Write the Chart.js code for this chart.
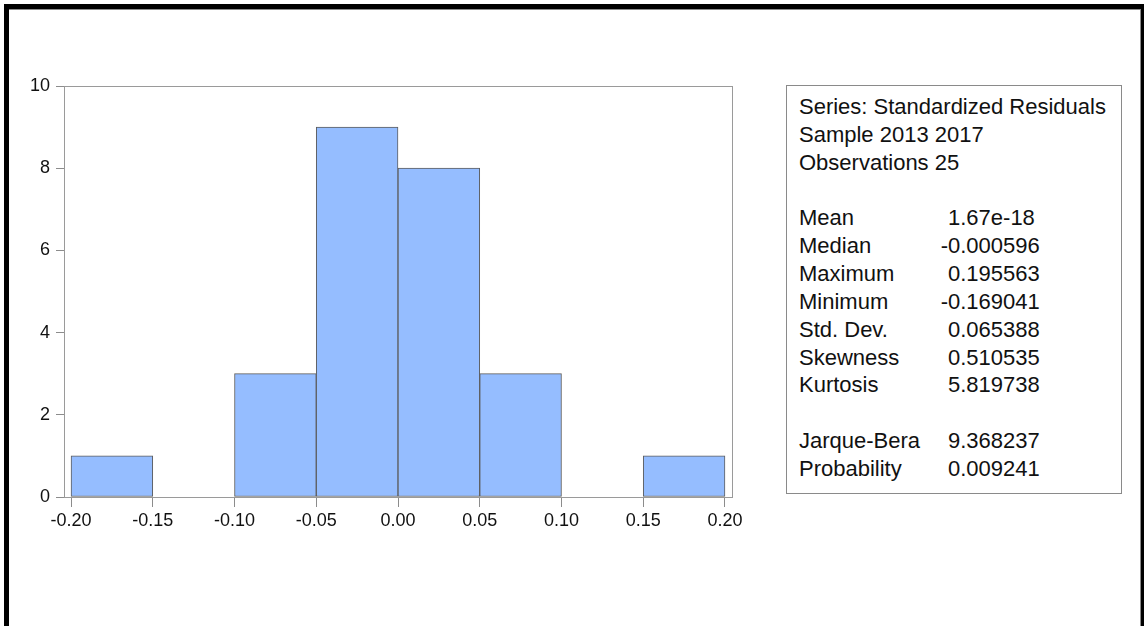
<!DOCTYPE html>
<html>
<head>
<meta charset="utf-8">
<script src="https://cdn.jsdelivr.net/npm/chart.js@4.4.0/dist/chart.umd.min.js"></script>
<style>
html, body { margin: 0; padding: 0; background: #fff; width: 1144px; height: 626px; overflow: hidden; }
body { position: relative; font-family: "Liberation Sans", Arial, sans-serif; }
#frame {
    position: absolute; left: 4px; top: 4px; width: 1132px; height: 700px;
    border-left: 5px solid #000; border-top: 5px solid #000; border-right: 5px solid #000;
    box-shadow: inset -1px 1px 0 #8a8a8a;
}
#chart-wrap { position: absolute; left: 0; top: 0; width: 760px; height: 560px; }
#stats {
    position: absolute; left: 786px; top: 85px; width: 322px; height: 400px;
    border: 1px solid #8a8a8a; padding: 7px 0 0 12px;
    font-size: 22px; line-height: 27.85px; color: #111;
}
#stats .row { position: relative; height: 27.85px; white-space: nowrap; }
#stats .val { position: absolute; left: 149px; top: 0; }
#stats .minus { position: absolute; right: 100%; top: 0; }
</style>
</head>
<body>
<div id="frame"></div>
<div id="chart-wrap"><canvas id="hist"></canvas></div>
<div id="stats"></div>

<script>
// Datos del histograma (centros de cada intervalo y frecuencias)
const binCenters = [-0.175, -0.125, -0.075, -0.025, 0.025, 0.075, 0.125, 0.175];
const counts = [1, 0, 3, 9, 8, 3, 0, 1];
const xTicks = [-0.20, -0.15, -0.10, -0.05, 0.00, 0.05, 0.10, 0.15, 0.20];
const yTicks = [0, 2, 4, 6, 8, 10];

// Cuadro de estadísticos
const headerLines = ["Series: Standardized Residuals", "Sample 2013 2017", "Observations 25"];
const statNames = ["Mean", "Median", "Maximum", "Minimum", "Std. Dev.", "Skewness", "Kurtosis"];
const statValues = ["1.67e-18", "-0.000596", "0.195563", "-0.169041", "0.065388", "0.510535", "5.819738"];
const testNames = ["Jarque-Bera", "Probability"];
const testValues = ["9.368237", "0.009241"];

const fontFamily = "'Liberation Sans', Arial, sans-serif";
Chart.defaults.font.family = fontFamily;

// Marco gris alrededor del área del gráfico
const plotFrame = {
    id: "plotFrame",
    beforeDatasetsDraw(chart) {
        const { ctx, chartArea: a } = chart;
        ctx.save();
        ctx.strokeStyle = "#9a9a9a";
        ctx.lineWidth = 1;
        ctx.strokeRect(Math.round(a.left) + 0.5, Math.round(a.top) + 0.5,
            Math.round(a.right - a.left), Math.round(a.bottom - a.top));
        ctx.restore();
    }
};

new Chart(document.getElementById("hist"), {
    type: "bar",
    data: {
        datasets: [{
            data: binCenters.map((c, i) => ({ x: c, y: counts[i] })),
            backgroundColor: "#95bdff",
            borderColor: "#5c5c5c",
            borderWidth: 1,
            borderSkipped: false,
            categoryPercentage: 1,
            barPercentage: 1
        }]
    },
    options: {
        responsive: true,
        maintainAspectRatio: false,
        animation: false,
        layout: { padding: { left: 0, top: 86, right: 28, bottom: 23 } },
        plugins: {
            legend: { display: false },
            tooltip: { enabled: false }
        },
        scales: {
            x: {
                type: "linear",
                min: -0.2043,
                max: 0.2043,
                offset: false,
                afterBuildTicks: s => { s.ticks = xTicks.map(v => ({ value: v })); },
                afterFit: s => { s.height = 40; },
                ticks: {
                    callback: v => v.toFixed(2),
                    color: "#111",
                    font: { size: 18 },
                    padding: 3,
                    maxRotation: 0,
                    autoSkip: false
                },
                grid: { drawOnChartArea: false, tickLength: 10, color: "#8c8c8c", offset: false },
                border: { display: false }
            },
            y: {
                min: 0,
                max: 10,
                afterBuildTicks: s => { s.ticks = yTicks.map(v => ({ value: v })); },
                afterFit: s => { s.width = 64; },
                ticks: { color: "#111", font: { size: 18 }, padding: 6 },
                grid: { drawOnChartArea: false, tickLength: 8, color: "#8c8c8c" },
                border: { display: false }
            }
        }
    },
    plugins: [plotFrame]
});

// Construir el cuadro de estadísticos
const stats = document.getElementById("stats");
function addRow(label, value) {
    const row = document.createElement("div");
    row.className = "row";
    row.textContent = label;
    if (value !== undefined) {
        const val = document.createElement("span");
        val.className = "val";
        if (value.startsWith("-")) {
            const minus = document.createElement("span");
            minus.className = "minus";
            minus.textContent = "-";
            val.appendChild(minus);
            val.appendChild(document.createTextNode(value.slice(1)));
        } else {
            val.textContent = value;
        }
        row.appendChild(val);
    }
    stats.appendChild(row);
}
headerLines.forEach(l => addRow(l));
addRow("");
statNames.forEach((n, i) => addRow(n, statValues[i]));
addRow("");
testNames.forEach((n, i) => addRow(n, testValues[i]));
</script>
</body>
</html>
